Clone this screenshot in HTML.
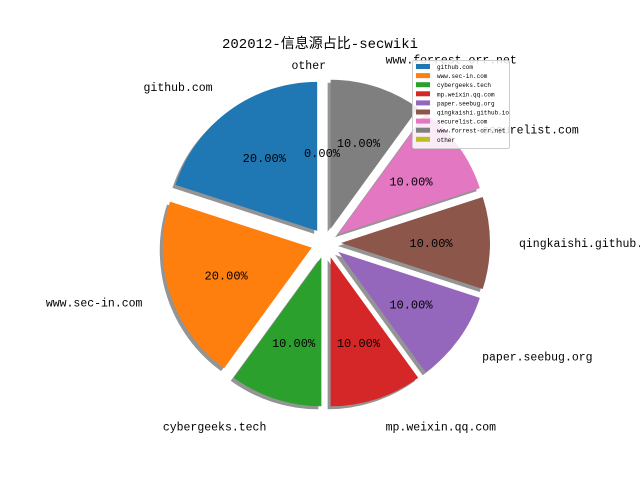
<!DOCTYPE html>
<html><head><meta charset="utf-8"><style>
body{margin:0;background:#fff}
svg{display:block}
text{font-family:"Liberation Mono","Noto Sans CJK SC",monospace}
</style></head><body>
<svg id="chart" width="640" height="480">
<text x="320" y="48" text-anchor="middle" font-size="14" style='font-family:"Liberation Mono","Noto Sans CJK SC",monospace'>202012-信息源占比-secwiki</text>
<g id="shadows"></g><g id="slices"></g><g id="labels"></g>
<g id="legend"></g>
</svg>
<script>
const categories=["github.com","www.sec-in.com","cybergeeks.tech","mp.weixin.qq.com","paper.seebug.org","qingkaishi.github.io","securelist.com","www.forrest-orr.net","other"];
const values=[20,20,10,10,10,10,10,10,0];
const colors=["#1f77b4","#ff7f0e","#2ca02c","#d62728","#9467bd","#8c564b","#e377c2","#7f7f7f","#bcbd22"];
const NS="http://www.w3.org/2000/svg";
const cx=326,cy=243,r=149,ex=15,labR=193,pctR=105;
const total=values.reduce((a,b)=>a+b,0);
function mk(t,a,p){const e=document.createElementNS(NS,t);for(const k in a)e.setAttribute(k,a[k]);p.appendChild(e);return e;}
const sh=document.getElementById('shadows'),sl=document.getElementById('slices'),lb=document.getElementById('labels');
let ang=90;
values.forEach((v,i)=>{
  const sweep=v/total*360,a0=ang,a1=ang+sweep,mid=(a0+a1)/2*Math.PI/180;ang=a1;
  const ox=cx+ex*Math.cos(mid),oy=cy-ex*Math.sin(mid);
  const p=a=>[ox+r*Math.cos(a*Math.PI/180),oy-r*Math.sin(a*Math.PI/180)];
  const [x0,y0]=p(a0),[x1,y1]=p(a1);
  const d=`M${ox},${oy}L${x0},${y0}A${r},${r} 0 ${sweep>180?1:0} 0 ${x1},${y1}Z`;
  const s=mk('path',{d:d,fill:'#000','fill-opacity':0.42,transform:'translate(-3,3)'},sh);
  
  
  const w=mk('path',{d:d,fill:colors[i]},sl);
  
  
  const lx=cx+labR*Math.cos(mid),ly=cy-labR*Math.sin(mid);
  const t=mk('text',{x:v==0?cx:lx,y:(v==0?65:ly)+4,'font-size':11.5,'text-anchor':(Math.cos(mid)<0.001?'end':'start')},lb);
  t.textContent=categories[i];
  
  
  const px=v==0?322:cx+pctR*Math.cos(mid),py=v==0?153:cy-pctR*Math.sin(mid);
  const q=mk('text',{x:px,y:py+4,'font-size':12,'text-anchor':'middle'},lb);
  q.textContent=v.toFixed(2)+'%';
  
  
});
const lg=document.getElementById('legend');
const box=mk('rect',{x:412.5,y:60.5,width:97,height:88,fill:'#fff','fill-opacity':0.85,stroke:'#ccc',rx:2},lg);


categories.forEach((c,i)=>{
  const y=64+i*9.1;
  const sw=mk('rect',{x:416,y:y,width:14,height:5,fill:colors[i]},lg);
  
  
  const t=mk('text',{x:437,y:y+5,'font-size':6},lg);
  t.textContent=c;
  
  
});
</script>
</body></html>
